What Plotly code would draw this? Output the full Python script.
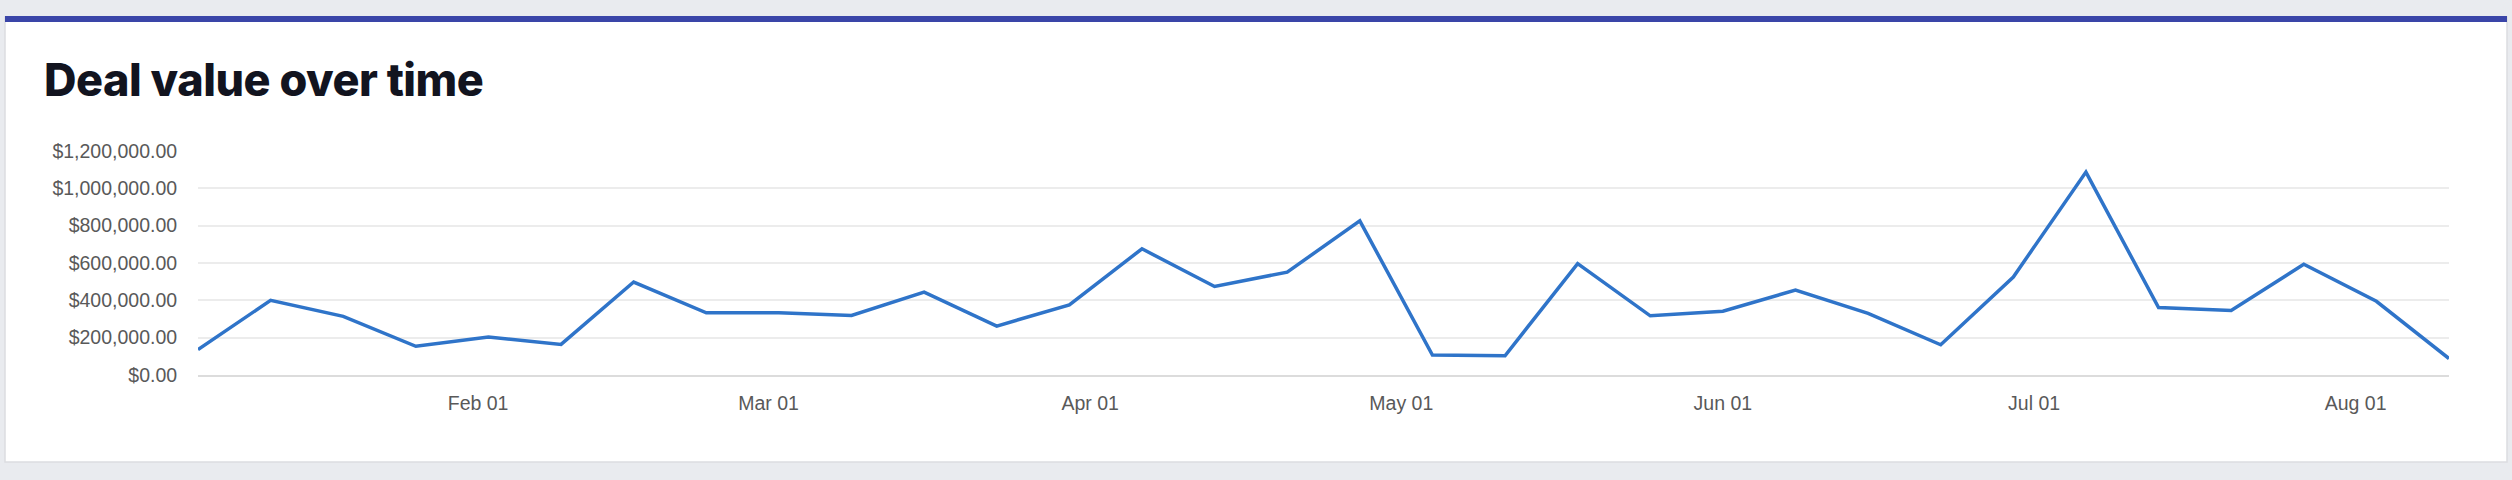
import plotly.graph_objects as go

# ---------------- data ----------------
weeks = [
    "2023-01-05", "2023-01-12", "2023-01-19", "2023-01-26",
    "2023-02-02", "2023-02-09", "2023-02-16", "2023-02-23",
    "2023-03-02", "2023-03-09", "2023-03-16", "2023-03-23", "2023-03-30",
    "2023-04-06", "2023-04-13", "2023-04-20", "2023-04-27",
    "2023-05-04", "2023-05-11", "2023-05-18", "2023-05-25",
    "2023-06-01", "2023-06-08", "2023-06-15", "2023-06-22", "2023-06-29",
    "2023-07-06", "2023-07-13", "2023-07-20", "2023-07-27",
    "2023-08-03", "2023-08-10",
]
deal_value = [
    136000, 400000, 314000, 154000,
    204000, 164000, 498000, 333000,
    333000, 319000, 444000, 262000, 376000,
    676000, 474000, 551000, 826000,
    107000, 103000, 597000, 317000,
    342000, 455000, 330000, 162000, 525000,
    1087000, 361000, 346000, 593000,
    395000, 88000,
]
y_ticks = [0, 200000, 400000, 600000, 800000, 1000000, 1200000]

# ---------------- layout helpers (pixels -> paper) ----------------
W, H = 2512, 480
ml, mr, mt, mb = 198, 63, 151, 105
pw = W - ml - mr
ph = H - mt - mb


def px_x(p):
    return (p - ml) / pw


def px_y(p):
    return (H - mb - p) / ph


fig = go.Figure()

fig.add_trace(go.Scatter(
    x=weeks,
    y=deal_value,
    mode="lines",
    line=dict(color="#2f74c9", width=3.5),
    hovertemplate="%{x|%b %d}<br>%{y:$,.2f}<extra></extra>",
))

# card + blue top bar
fig.add_shape(type="rect", xref="paper", yref="paper", layer="below",
              x0=px_x(5), x1=px_x(2507), y0=px_y(462), y1=px_y(17),
              fillcolor="white", line=dict(color="#dcdde1", width=1.5))
fig.add_shape(type="rect", xref="paper", yref="paper", layer="below",
              x0=px_x(5), x1=px_x(2507), y0=px_y(22), y1=px_y(16),
              fillcolor="#3a45a8", line=dict(width=0))

fig.add_annotation(
    text='<span style="letter-spacing:-0.5px">Deal value over time</span>',
    xref="paper", yref="paper",
    x=px_x(42), y=px_y(80),
    xanchor="left", yanchor="middle",
    showarrow=False,
    font=dict(family="Inter", size=45, color="#12141f", weight=800),
)

fig.update_layout(
    width=W, height=H,
    margin=dict(l=ml, r=mr, t=mt, b=mb, pad=0),
    paper_bgcolor="#e9ebef",
    plot_bgcolor="white",
    showlegend=False,
    font=dict(family="Liberation Sans", size=19.5, color="#595959"),
)

fig.update_xaxes(
    type="date",
    range=[weeks[0], weeks[-1]],
    dtick="M1",
    tick0="2023-01-01",
    tickformat="%b %d",
    showgrid=False,
    showline=True,
    linecolor="#dcdcdc",
    linewidth=2,
    ticks="outside",
    ticklen=10,
    tickcolor="rgba(0,0,0,0)",
    zeroline=False,
)

fig.update_yaxes(
    range=[0, 1200000],
    tickvals=y_ticks,
    tickformat="$,.2f",
    showgrid=True,
    gridcolor="#ececec",
    gridwidth=1.6,
    zeroline=False,
    ticks="outside",
    ticklen=16,
    tickcolor="rgba(0,0,0,0)",
)

# drop the default 8px body margin so the figure sits at the page origin
fig.write_html("out.html", config={"displayModeBar": False},
               post_script="document.body.style.margin='0';")
